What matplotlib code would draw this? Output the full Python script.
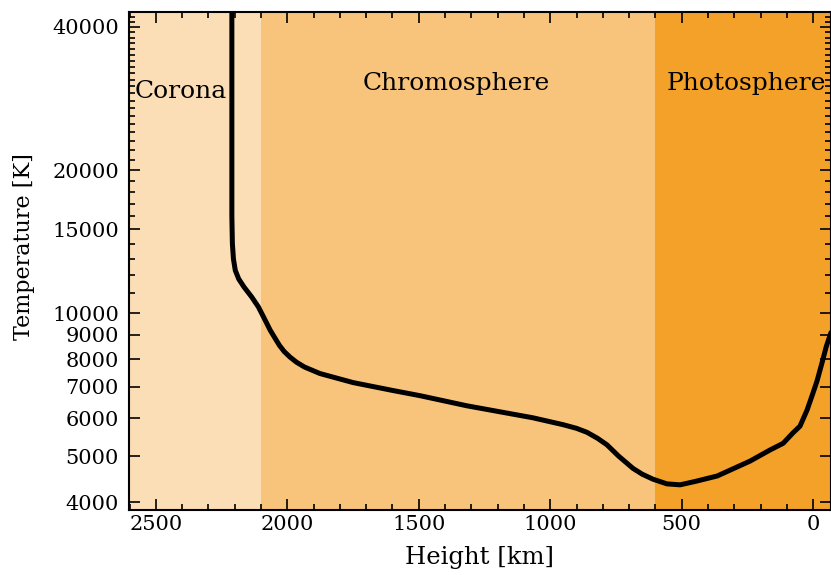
import matplotlib
matplotlib.use("Agg")
import matplotlib.pyplot as plt
from matplotlib.ticker import FixedLocator, FixedFormatter, NullFormatter, MultipleLocator

# temperature profile of the solar atmosphere
height = [2211, 2211, 2209, 2205, 2198, 2185, 2165, 2135, 2110, 2090, 2065, 2045, 2030,
          2012, 1990, 1965, 1935, 1876, 1750, 1598, 1495, 1317, 1066, 950, 900, 860,
          820, 784, 740, 685, 650, 609, 556, 506, 450, 365, 240, 164, 114, 76, 50, 23,
          0, -15, -35, -50, -68]
temp = [43000, 16000, 14000, 13000, 12300, 11800, 11350, 10800, 10300, 9800, 9200, 8820,
        8550, 8300, 8080, 7880, 7700, 7460, 7140, 6870, 6700, 6380, 6020, 5820, 5720,
        5610, 5450, 5280, 5000, 4710, 4580, 4470, 4370, 4350, 4420, 4540, 4880, 5150,
        5320, 5600, 5780, 6250, 6800, 7200, 7900, 8500, 9100]

regions = ["Corona", "Chromosphere", "Photosphere"]
region_bounds = [(2700, 2100), (2100, 600), (600, -100)]
region_colors = ["#fcdeb6", "#f8c47c", "#f4a12a"]
label_x = [2405, 1358, 255]
label_y = [28400, 29500, 29500]

yticks = [4000, 5000, 6000, 7000, 8000, 9000, 10000, 15000, 20000, 40000]

plt.rcParams["font.family"] = ["DejaVu Serif"]
plt.rcParams["font.size"] = 15

fig = plt.figure(figsize=(8.31, 5.75), dpi=100)
ax = fig.add_axes([0.155, 0.113, 0.845, 0.866])

for name, (a, b), c, xp, yp in zip(regions, region_bounds, region_colors, label_x, label_y):
    ax.axvspan(a, b, color=c, lw=0, zorder=0)
    ax.text(xp, yp, name, ha="center", va="baseline", fontsize=18)

ax.plot(height, temp, color="black", lw=3.6, solid_capstyle="round",
        solid_joinstyle="round", zorder=3)

ax.set_yscale("log")
ax.set_xlim(2603, -68)
ax.set_ylim(3850, 43000)

ax.yaxis.set_major_locator(FixedLocator(yticks))
ax.yaxis.set_major_formatter(FixedFormatter([str(t) for t in yticks]))
minor = [t for t in range(11000, 44000, 1000) if t not in yticks]
ax.yaxis.set_minor_locator(FixedLocator(minor))
ax.yaxis.set_minor_formatter(NullFormatter())
ax.xaxis.set_major_locator(MultipleLocator(500))
ax.xaxis.set_minor_locator(MultipleLocator(100))

ax.tick_params(which="both", direction="in", top=True, right=True, labelsize=15,
               width=1.2)
ax.tick_params(axis="y", pad=7)
ax.tick_params(which="major", length=8)
ax.tick_params(which="minor", length=4)
for s in ax.spines.values():
    s.set_linewidth(1.5)

ax.set_xlabel("Height [km]", fontsize=17.5)
ax.set_ylabel("Temperature [K]", fontsize=16)
ax.xaxis.set_label_coords(0.5, -0.072)
ax.yaxis.set_label_coords(-0.134, 0.53)

fig.savefig("out.png", dpi=100)
